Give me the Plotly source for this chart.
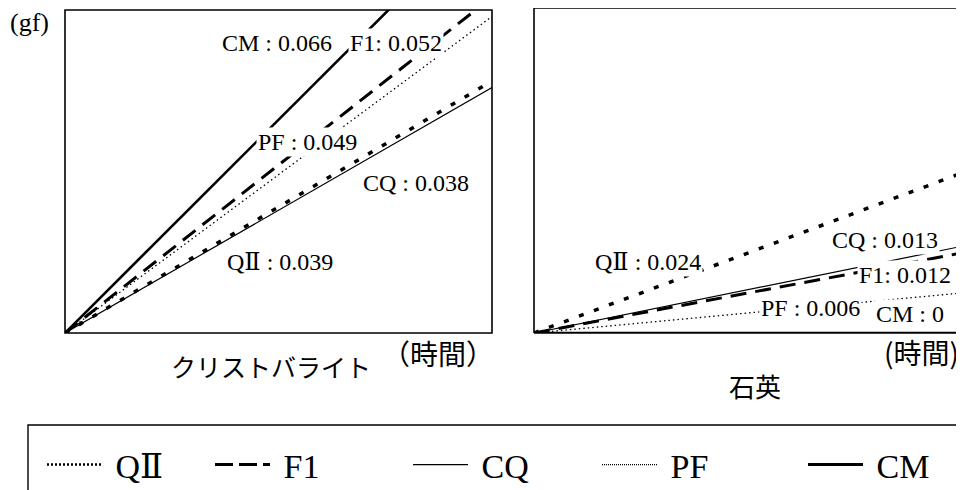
import plotly.graph_objects as go

# ---- data ----
series = ["QⅡ", "F1", "CQ", "PF", "CM"]
rate_cristobalite = [0.039, 0.052, 0.038, 0.049, 0.066]   # gf / hour
rate_quartz = [0.024, 0.012, 0.013, 0.006, 0.0]
hours = [0, 100]
label_cristobalite = ["QⅡ : 0.039", "F1: 0.052", "CQ : 0.038", "PF : 0.049", "CM : 0.066"]
label_quartz = ["QⅡ : 0.024", "F1: 0.012", "CQ : 0.013", "PF : 0.006", "CM : 0"]
panel_names = ["クリストバライト", "石英"]
unit_x_left = "（時間）"
unit_x_right = "(時間)"
unit_y = "(gf)"

# ---- styles ----
styles = {
    "QⅡ": dict(color="black", width=3.5, dash="5px,11px"),
    "F1": dict(color="black", width=3, dash="16px,9px"),
    "CQ": dict(color="black", width=1.2),
    "PF": dict(color="black", width=1.3, dash="1.5px,3px"),
    "CM": dict(color="black", width=2.6),
}
legend_styles = {
    "QⅡ": dict(color="black", width=2.5, dash="2px,2px"),
    "F1": dict(color="black", width=3, dash="18px,6px"),
    "CQ": dict(color="black", width=1.2),
    "PF": dict(color="black", width=1.2, dash="1px,1px"),
    "CM": dict(color="black", width=3),
}
draw_order = ["PF", "CQ", "QⅡ", "F1", "CM"]

# page body has an 8px margin: figure is laid out in reference pixel coords shifted by OFF
OFF = 8
W, H = 964 - OFF, 490 - OFF
LEFT = (65, 492)
RIGHT = (534, 964)
TOP_L, TOP_R, BOT = 10, 8, 333

def px(x):
    return (x - OFF) / W

def py(y):
    return 1 - (y - OFF) / H

fig = go.Figure()

for name in draw_order:
    i = series.index(name)
    fig.add_trace(go.Scatter(x=hours, y=[rate_cristobalite[i] * h for h in hours],
                             mode="lines", line=styles[name], showlegend=False,
                             xaxis="x", yaxis="y", hoverinfo="skip"))
    fig.add_trace(go.Scatter(x=hours, y=[rate_quartz[i] * h for h in hours],
                             mode="lines", line=styles[name], showlegend=False,
                             xaxis="x2", yaxis="y2", hoverinfo="skip"))

# legend entries (one legend per entry to reproduce spacing)
legend_x = [47, 215, 413, 602, 808]
legend_ids = ["legend", "legend2", "legend3", "legend4", "legend5"]
for k, name in enumerate(series):
    fig.add_trace(go.Scatter(x=[None], y=[None], mode="lines", name=" " + name,
                             line=legend_styles[name], legend=legend_ids[k],
                             xaxis="x", yaxis="y"))

lat_font = "Liberation Serif, DejaVu Serif, Noto Sans CJK JP, serif"
leg_common = dict(orientation="h", yanchor="middle", y=py(465), xanchor="left",
                  bgcolor="rgba(0,0,0,0)", borderwidth=0, itemwidth=55,
                  font=dict(family=lat_font, size=34, color="black"),
                  tracegroupgap=0, itemclick=False)
for k, lid in enumerate(legend_ids):
    fig.update_layout({lid: dict(leg_common, x=px(legend_x[k] - 5))})

axis_common = dict(showgrid=False, zeroline=False, showticklabels=False, ticks="",
                   showline=False, range=[0, 100], fixedrange=True)
yaxis_common = dict(showgrid=False, zeroline=False, showticklabels=False, ticks="",
                    showline=False, fixedrange=True)

fig.update_layout(
    width=W, height=H,
    margin=dict(l=0, r=0, t=0, b=0, autoexpand=False),
    paper_bgcolor="white", plot_bgcolor="white",
    xaxis=dict(axis_common, domain=[px(LEFT[0]), px(LEFT[1])], anchor="y"),
    yaxis=dict(yaxis_common, range=[0, 5], domain=[py(BOT), py(TOP_L)], anchor="x"),
    xaxis2=dict(axis_common, domain=[px(RIGHT[0]), min(1, px(RIGHT[1]))], anchor="y2"),
    yaxis2=dict(yaxis_common, range=[0, 4.85], domain=[py(BOT), py(TOP_R)], anchor="x2"),
)

shapes = []
# left panel box
shapes.append(dict(type="rect", xref="paper", yref="paper",
                   x0=px(LEFT[0]), x1=px(LEFT[1]), y0=py(BOT), y1=py(TOP_L),
                   line=dict(color="black", width=1.6)))
# right panel: top, left, bottom
for (x0, y0, x1, y1) in [(RIGHT[0], TOP_R, 980, TOP_R), (RIGHT[0], TOP_R, RIGHT[0], BOT),
                         (RIGHT[0], BOT, 980, BOT)]:
    shapes.append(dict(type="line", xref="paper", yref="paper",
                       x0=px(x0), x1=px(x1), y0=py(y0), y1=py(y1),
                       line=dict(color="black", width=1.6)))
# legend box
shapes.append(dict(type="rect", xref="paper", yref="paper",
                   x0=px(28), x1=px(1000), y0=py(520), y1=py(425),
                   line=dict(color="black", width=1.4)))
fig.update_layout(shapes=shapes)

lab_font = dict(family=lat_font, size=24, color="black")
ann = []
# label positions in data units (hours, gf)
pos_cristobalite = {"QⅡ": (50.4, 1.10), "F1": (77.5, 4.49), "CQ": (82.2, 2.32),
                    "PF": (56.9, 2.96), "CM": (49.6, 4.49)}
pos_quartz = {"QⅡ": (26.5, 1.06), "F1": (86.3, 0.86), "CQ": (81.6, 1.39),
              "PF": (64.4, 0.37), "CM": (87.4, 0.28)}
for i, name in enumerate(series):
    x, y = pos_cristobalite[name]
    ann.append(dict(x=x, y=y, xref="x", yref="y", text=label_cristobalite[i],
                    xanchor="center", yanchor="middle",
                    showarrow=False, font=lab_font, bgcolor="white", borderpad=1))
    x, y = pos_quartz[name]
    ann.append(dict(x=x, y=y, xref="x2", yref="y2", text=label_quartz[i],
                    xanchor="center", yanchor="middle",
                    showarrow=False, font=lab_font, bgcolor="white", borderpad=1))

cjk = "Noto Sans CJK JP, sans-serif"

def text_at(x, y, text, size, family):
    return dict(x=px(x), y=py(y), xref="paper", yref="paper", text=text,
                xanchor="center", yanchor="middle", showarrow=False,
                font=dict(family=family, size=size, color="black"))

ann.append(text_at(29, 22, unit_y, 26, lat_font))
ann.append(text_at(271, 366, panel_names[0], 25, cjk))
ann.append(text_at(755, 385, panel_names[1], 26, cjk))
ann.append(text_at(438, 353, unit_x_left, 28, cjk))
ann.append(text_at(921, 352, unit_x_right, 28, cjk))
fig.update_layout(annotations=ann)

fig.write_html("out.html")
